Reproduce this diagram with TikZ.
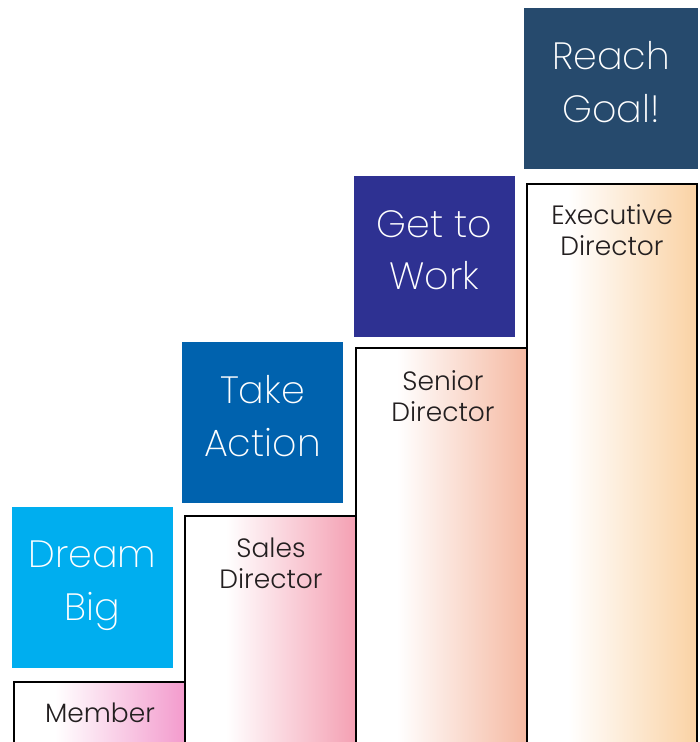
\documentclass[tikz,border=0pt]{standalone}
\usepackage{fontspec}
\setmainfont{Poppins}[UprightFont={* ExtraLight}]
\newfontfamily\labelfont{Poppins}[UprightFont={* Light}]
\definecolor{dreamC}{HTML}{00AEEF}
\definecolor{actionC}{HTML}{0062AE}
\definecolor{workC}{HTML}{2E3192}
\definecolor{goalC}{HTML}{264A6D}
\definecolor{memberC}{HTML}{F39BCD}
\definecolor{salesC}{HTML}{F4A0B3}
\definecolor{seniorC}{HTML}{F5B9A2}
\definecolor{execC}{HTML}{FAD2A4}
\definecolor{labelC}{HTML}{231F20}
\tikzset{
  goalbox/.style={inner sep=0pt, minimum width=161pt, minimum height=161pt},
  boxtext/.style={inner sep=0pt, text=white, align=center,
    font=\fontsize{38}{52.5}\selectfont},
  steplabel/.style={inner sep=0pt, align=center, text=labelC,
    font=\labelfont\fontsize{26.5}{31}\selectfont},
  stepline/.style={draw=black, line width=2pt}
}
\begin{document}
\begin{tikzpicture}[x=1pt,y=-1pt]
\useasboundingbox (0,0) rectangle (700,742);
\begin{scope}
\clip (0,0) rectangle (700,742);
% steps: white base, gradient, outline
\fill[white] (14,682) rectangle (185,760);
\shade[left color=white, right color=memberC] (55,682) rectangle (185,760);
\fill[white] (185,516) rectangle (356,760);
\shade[left color=white, right color=salesC] (226,516) rectangle (356,760);
\fill[white] (356,348) rectangle (527,760);
\shade[left color=white, right color=seniorC] (397,348) rectangle (527,760);
\fill[white] (527,184) rectangle (697,760);
\shade[left color=white, right color=execC] (568,184) rectangle (697,760);
\draw[stepline] (14,760) -- (14,682) -- (185,682);
\draw[stepline] (185,760) -- (185,516) -- (356,516);
\draw[stepline] (356,760) -- (356,348) -- (527,348);
\draw[stepline] (527,760) -- (527,184) -- (697,184) -- (697,760);
\end{scope}
% step labels
\node[steplabel] (member) at (100,713) {Member};
\node[steplabel] (sales) at (271,563) {Sales\\Director};
\node[steplabel] (senior) at (443,396) {Senior\\Director};
\node[steplabel] (exec) at (612,230) {Executive\\Director};
% goal boxes
\node[goalbox, fill=dreamC] (dream) at (92.5,587.5) {};
\node[goalbox, fill=actionC] (action) at (262.5,422.5) {};
\node[goalbox, fill=workC] (work) at (434.5,256.5) {};
\node[goalbox, fill=goalC, minimum width=174pt] (goal) at (611,88.5) {};
\node[boxtext] (dreamT) at ([yshift=2pt]dream.center) {Dream\\Big};
\node[boxtext] (actionT) at ([yshift=6.5pt]action.center) {Take\\Action};
\node[boxtext] (workT) at ([yshift=6.5pt]work.center) {Get to\\Work};
\node[boxtext] (goalT) at ([yshift=6.5pt]goal.center) {Reach\\Goal!};
\end{tikzpicture}
\end{document}
